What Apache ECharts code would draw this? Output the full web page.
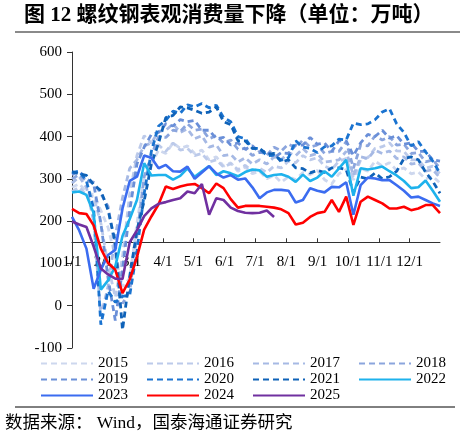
<!DOCTYPE html>
<html><head><meta charset="utf-8">
<script src="https://cdn.jsdelivr.net/npm/echarts@6/dist/echarts.min.js"></script>
<style>html,body{margin:0;padding:0;background:#fff}#c{width:466px;height:437px}</style>
</head><body><div id="c"></div>
<script>
// ---- data ----
const monthLabels = ['1/1','2/1','3/1','4/1','5/1','6/1','7/1','8/1','9/1','10/1','11/1','12/1'];
const monthStartDays = [0,31,59,90,120,151,181,212,243,273,304,334];
const years = ['2015','2016','2017','2018','2019','2020','2021','2022','2023','2024','2025'];

const v2015 = [280,288,270,262,225,185,115,45,65,195,305,335,368,360,385,372,378,360,368,345,352,330,338,318,328,312,318,300,308,292,305,298,315,310,320,298,288,312,322,298,325,318,342,330,338,320,326,312,316,300,306,290];
const v2016 = [270,280,262,258,195,95,20,115,265,355,402,385,380,365,385,368,372,355,360,340,345,328,336,322,332,318,325,315,330,326,342,338,355,345,350,330,322,342,348,302,345,350,372,376,385,366,365,345,345,325,330,312];
const v2017 = [290,305,280,200,-25,45,165,255,325,345,378,385,412,415,430,410,418,395,402,375,380,355,358,340,350,335,345,335,352,345,362,355,372,355,360,340,342,345,365,308,352,348,368,360,366,348,352,335,338,318,322,302];
const v2018 = [300,310,295,292,265,235,135,5,35,165,305,355,400,398,415,412,430,415,418,395,402,385,392,370,372,355,365,356,375,366,382,374,392,375,380,360,365,365,388,325,380,378,402,392,400,380,382,360,362,340,345,325];
const v2019 = [310,318,300,288,195,65,-35,85,225,335,375,405,410,430,425,440,435,438,415,415,395,398,380,385,370,378,362,366,350,362,360,380,380,398,382,385,365,390,390,355,385,405,400,415,396,402,382,385,365,365,345,342];
const v2020 = [315,318,295,230,-45,35,8,22,25,130,265,365,425,438,460,455,475,470,478,468,474,445,435,400,395,372,372,355,356,344,350,390,375,372,362,376,378,394,392,432,428,430,440,458,466,430,410,378,388,364,342,313];
const v2021 = [317,312,308,286,272,226,150,-57,70,178,248,335,385,445,450,470,468,462,455,458,470,435,428,390,390,372,372,358,360,340,345,326,324,314,320,315,326,326,322,268,304,300,314,300,305,318,348,352,345,316,294,266];
const v2022 = [268,270,262,219,38,60,93,165,205,250,337,308,309,309,298,307,325,305,318,330,309,318,313,306,316,322,320,305,309,311,305,293,310,295,303,318,305,325,345,260,325,322,325,329,318,308,295,278,280,296,272,246];
const v2023 = [210,178,135,40,85,120,132,230,295,305,355,350,325,333,318,317,329,300,315,330,313,303,309,298,301,280,254,268,274,274,272,244,250,278,272,268,281,280,292,215,285,303,301,297,297,285,272,256,258,250,242,236];
const v2024 = [229,219,217,190,135,101,85,30,62,115,180,211,240,282,276,282,286,288,278,266,289,278,252,232,236,236,236,234,232,228,219,192,196,210,219,222,250,222,258,191,246,258,250,242,230,230,234,226,230,238,238,219];
const v2025 = [199,192,186,140,88,74,64,63,150,178,212,230,241,245,250,254,270,266,288,215,254,250,232,224,220,219,220,225,210];

const yearValues = [v2015,v2016,v2017,v2018,v2019,v2020,v2021,v2022,v2023,v2024,v2025];

// ---- styles ----
const colors = ['#cdd7ee','#bccaea','#a6b9e4','#8ba5dd','#6a8fd8','#1a73d0','#0f62b8','#1eb2ec','#3b6cf0','#ff0000','#7030a0'];
const dashed = [true,true,true,true,true,true,true,false,false,false,false];

const SERIF = "'Liberation Serif','Noto Sans CJK SC',serif";
const DAYS = 364, WEEKS = 52;

const series = years.map((y, k) => ({
  name: y,
  type: 'line',
  symbol: 'none',
  showSymbol: false,
  animation: false,
  connectNulls: true,
  z: 2 + k,
  lineStyle: {
    color: colors[k],
    width: dashed[k] ? 2.8 : 2.6,
    type: dashed[k] ? [6, 4] : 'solid',
    cap: 'butt'
  },
  itemStyle: { color: colors[k] },
  data: yearValues[k].map((v, i) => [i * DAYS / (WEEKS - 1), v])
}));

const chart = echarts.init(document.getElementById('c'), null, { renderer: 'canvas' });

const gridTop = 52, gridBottom = 89, H = 437;
const gridH = H - gridTop - gridBottom;
const yMin = -100, yMax = 600, xCross = 150;
const xOffset = -gridH * (xCross - yMin) / (yMax - yMin);

function legendRow(names, top) {
  return {
    data: names,
    left: 40,
    top: top,
    orient: 'horizontal',
    itemWidth: 52,
    itemHeight: 12,
    itemGap: 18,
    padding: 0,
    itemStyle: { opacity: 0, color: 'rgba(0,0,0,0)', borderWidth: 0 },
    textStyle: { fontFamily: SERIF, fontSize: 15, color: '#000' }
  };
}

chart.setOption({
  backgroundColor: '#fff',
  animation: false,
  title: {
    text: '图 12 螺纹钢表观消费量下降（单位：万吨）',
    left: 19, top: 0,
    textStyle: { fontFamily: SERIF, fontSize: 21, fontWeight: 'bold', color: '#000' }
  },
  grid: { left: 72, right: 26, top: gridTop, bottom: gridBottom },
  legend: [
    legendRow(['2015','2016','2017','2018'], 356),
    legendRow(['2019','2020','2021','2022'], 372),
    legendRow(['2023','2024','2025'], 388)
  ],
  xAxis: {
    type: 'value',
    min: 0, max: DAYS,
    offset: xOffset,
    splitLine: { show: false },
    axisLine: { onZero: false, lineStyle: { color: '#333', width: 1 } },
    axisTick: { show: true, inside: true, length: 4, customValues: monthStartDays, lineStyle: { color: '#333' } },
    axisLabel: {
      customValues: monthStartDays,
      formatter: (val) => monthLabels[monthStartDays.indexOf(Math.round(val))] || '',
      fontFamily: SERIF, fontSize: 15, color: '#000', margin: 12
    }
  },
  yAxis: {
    type: 'value',
    min: yMin, max: yMax, interval: 100,
    splitLine: { show: false },
    axisLine: { show: true, lineStyle: { color: '#333', width: 1 } },
    axisTick: { show: true, length: 5, lineStyle: { color: '#333' } },
    axisLabel: { fontFamily: SERIF, fontSize: 15, color: '#000', margin: 10 }
  },
  graphic: [
    { type: 'line', shape: { x1: 15, y1: 32, x2: 460, y2: 32 }, style: { stroke: '#8a8a8a', lineWidth: 2 } },
    { type: 'line', shape: { x1: 15, y1: 407, x2: 455, y2: 407 }, style: { stroke: '#000', lineWidth: 1 } },
    { type: 'text', left: 5, top: 415, style: { text: '数据来源： Wind，国泰海通证券研究', font: "17.5px 'Liberation Serif','Noto Sans CJK SC',serif", fill: '#000' } }
  ],
  series: series
});
</script>
</body></html>
